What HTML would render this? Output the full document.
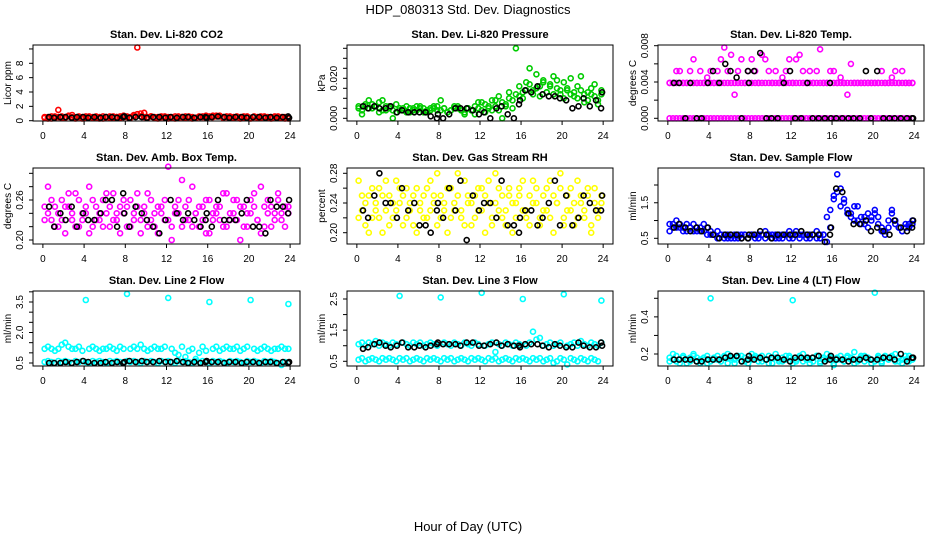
<!DOCTYPE html>
<html><head><meta charset="utf-8">
<style>
html,body{margin:0;padding:0;background:#fff;}
svg{display:block;font-family:"Liberation Sans",sans-serif;}
</style></head>
<body>
<svg id="chart" width="936" height="540" viewBox="0 0 936 540">
<rect x="0" y="0" width="936" height="540" fill="#fff"/>
<text x="468" y="14" font-size="13" text-anchor="middle">HDP_080313  Std. Dev. Diagnostics</text>
<text x="468" y="531" font-size="13" text-anchor="middle">Hour of Day (UTC)</text>
</svg>
<script>
// ---- data ----
const xTicks = [0,4,8,12,16,20,24];
const blackHours = [0.6,1.1,1.7,2.2,2.8,3.3,3.9,4.4,5.0,5.6,6.1,6.7,7.2,7.8,7.9,8.4,9.0,9.6,10.1,10.7,11.3,11.9,12.4,13.0,13.6,14.1,14.7,15.3,15.8,15.9,16.4,17.0,17.6,18.1,18.7,19.3,19.8,20.4,21.0,21.6,22.1,22.7,23.3,23.8,23.9];

const co2A = [0.4,0.5,0.3,0.6,1.5,0.4,0.5,0.6,0.8,0.4,0.5,0.3,0.6,0.5,0.4,0.6,0.5,0.3,0.5,0.6,0.4,0.5,0.6,0.7,0.5,0.4,0.6,10.2,1.0,1.1,0.5,0.6,0.4,0.5,0.6,0.4,0.3,0.5,0.6,0.4,0.5,0.6,0.5,0.3,0.4,0.6,0.5,0.4,0.5,0.7,0.6,0.7,0.5,0.6,0.4,0.5,0.6,0.5,0.4,0.6,0.3,0.5,0.4,0.6,0.5,0.4,0.5,0.6,0.4,0.5,0.3,0.4];
const co2B = [0.5,0.3,0.6,0.4,0.5,0.6,0.4,0.7,0.5,0.3,0.6,0.5,0.4,0.6,0.5,0.4,0.3,0.6,0.5,0.4,0.6,0.5,0.4,0.5,0.6,0.5,0.8,0.9,0.6,0.5,0.4,0.6,0.5,0.3,0.5,0.6,0.5,0.4,0.3,0.6,0.5,0.4,0.6,0.5,0.4,0.5,0.6,0.7,0.6,0.5,0.7,0.6,0.4,0.5,0.6,0.4,0.5,0.3,0.6,0.5,0.4,0.6,0.5,0.4,0.6,0.5,0.3,0.5,0.6,0.4,0.5,0.3];
const co2K = [0.5,0.4,0.5,0.5,0.4,0.5,0.5,0.4,0.5,0.4,0.5,0.5,0.4,0.5,0.6,0.4,0.5,0.5,0.4,0.5,0.5,0.4,0.5,0.4,0.5,0.5,0.4,0.5,0.5,0.4,0.5,0.6,0.5,0.4,0.5,0.5,0.4,0.5,0.5,0.4,0.5,0.4,0.5,0.6,0.4];

const presA = [0.005,0.002,0.006,0.005,0.007,0.006,0.008,0.009,0.004,0.006,0.0,0.007,0.004,0.005,0.003,0.005,0.004,0.006,0.005,0.003,0.004,0.005,0.006,0.004,0.009,0.005,0.003,0.004,0.005,0.006,0.004,0.003,0.005,0.004,0.002,0.005,0.008,0.003,0.005,0.009,0.006,0.004,0.0,0.007,0.010,0.005,0.035,0.011,0.013,0.018,0.025,0.014,0.022,0.016,0.019,0.013,0.017,0.021,0.015,0.012,0.018,0.014,0.020,0.011,0.016,0.021,0.008,0.013,0.012,0.017,0.009,0.014];
const presB = [0.006,0.004,0.007,0.009,0.005,0.006,0.003,0.004,0.006,0.005,0.004,0.003,0.005,0.004,0.006,0.003,0.005,0.004,0.006,0.005,0.003,0.004,0.005,0.006,0.004,0.005,0.003,0.004,0.006,0.005,0.004,0.002,0.005,0.004,0.006,0.008,0.004,0.007,0.006,0.004,0.009,0.011,0.008,0.006,0.013,0.009,0.012,0.016,0.010,0.014,0.017,0.012,0.015,0.011,0.018,0.013,0.016,0.012,0.019,0.014,0.010,0.015,0.012,0.013,0.010,0.014,0.012,0.009,0.015,0.011,0.007,0.012];
const presK = [0.006,0.005,0.006,0.005,0.005,0.006,0.003,0.004,0.003,0.003,0.003,0.003,0.001,0.0,0.002,0.0,0.002,0.005,0.005,0.005,0.004,0.002,0.003,0.0,0.005,0.006,0.002,0.0,0.007,0.009,0.014,0.013,0.016,0.012,0.011,0.011,0.010,0.009,0.005,0.006,0.010,0.006,0.009,0.005,0.013];

const tempA = [0.0039,0.0039,0.0052,0.0052,0.0039,0.0039,0.0052,0.0065,0.0039,0.0052,0.0039,0.0045,0.0052,0.0039,0.0052,0.0065,0.0078,0.0052,0.0070,0.0026,0.0052,0.0065,0.0039,0.0052,0.0065,0.0052,0.0039,0.0070,0.0065,0.0052,0.0039,0.0052,0.0039,0.0045,0.0052,0.0065,0.0039,0.0065,0.0070,0.0052,0.0039,0.0052,0.0039,0.0052,0.0076,0.0039,0.0039,0.0052,0.0052,0.0039,0.0045,0.0039,0.0026,0.0060,0.0039,0.0039,0.0039,0.0039,0.0039,0.0039,0.0039,0.0039,0.0052,0.0039,0.0039,0.0045,0.0052,0.0039,0.0052,0.0039,0.0039,0.0039];
const tempB = [0,0,0,0,0,0,0,0,0,0,0,0,0,0,0,0,0,0,0,0,0,0,0,0,0,0,0,0,0,0,0,0,0,0,0,0,0,0,0,0,0,0,0,0,0,0,0,0,0,0,0,0,0,0,0,0,0,0,0,0,0,0,0,0,0,0,0,0,0,0,0,0];
const tempC = [0.0039,0.0039,0.0039,0.0039,0.0039,0.0039,0.0039,0.0039,0.0039,0.0039,0.0039,0.0039,0.0039,0.0039,0.0039,0.0039,0.0039,0.0039,0.0039,0.0039,0.0039,0.0039,0.0039,0.0039,0.0039,0.0039,0.0039,0.0039,0.0039,0.0039,0.0039,0.0039,0.0039,0.0039,0.0039,0.0039,0.0039,0.0039,0.0039,0.0039,0.0039,0.0039,0.0039,0.0039,0.0039,0.0039,0.0039,0.0039,0.0039,0.0039,0.0039,0.0039,0.0039,0.0039,0.0039,0.0039,0.0039,0.0039,0.0039,0.0039,0.0039,0.0039,0.0039,0.0039,0.0039,0.0039,0.0039,0.0039,0.0039,0.0039,0.0039,0.0039];
const tempK = [0.0039,0.0039,0,0.0039,0,0,0.0039,0.0052,0.0039,0.006,0.0052,0.0045,0,0.0052,0.0039,0.0052,0.0072,0,0,0,0.0039,0.0052,0,0,0.0039,0,0,0,0.0039,0,0,0,0,0,0,0.0052,0,0.0052,0,0,0,0,0,0,0];

const boxA = [0.25,0.28,0.23,0.22,0.24,0.26,0.21,0.25,0.23,0.27,0.22,0.24,0.25,0.21,0.26,0.23,0.24,0.22,0.27,0.25,0.23,0.24,0.21,0.26,0.25,0.22,0.24,0.27,0.23,0.25,0.22,0.26,0.24,0.21,0.25,0.23,0.31,0.2,0.24,0.26,0.22,0.25,0.23,0.28,0.24,0.22,0.25,0.21,0.26,0.23,0.24,0.25,0.22,0.27,0.23,0.24,0.26,0.2,0.25,0.22,0.24,0.27,0.23,0.21,0.25,0.26,0.22,0.24,0.27,0.23,0.25,0.24];
const boxB = [0.23,0.24,0.26,0.25,0.22,0.23,0.25,0.27,0.24,0.22,0.26,0.23,0.24,0.28,0.22,0.25,0.23,0.26,0.24,0.22,0.27,0.23,0.25,0.24,0.22,0.26,0.23,0.25,0.21,0.24,0.27,0.23,0.22,0.25,0.24,0.26,0.23,0.22,0.25,0.24,0.29,0.23,0.26,0.22,0.24,0.25,0.23,0.26,0.21,0.24,0.25,0.23,0.27,0.22,0.24,0.26,0.23,0.25,0.22,0.24,0.26,0.25,0.23,0.28,0.22,0.24,0.25,0.23,0.26,0.24,0.22,0.25];
const boxK = [0.25,0.22,0.24,0.23,0.25,0.22,0.24,0.23,0.23,0.24,0.26,0.26,0.22,0.27,0.24,0.22,0.25,0.24,0.23,0.22,0.21,0.23,0.26,0.24,0.23,0.24,0.23,0.22,0.23,0.24,0.22,0.26,0.23,0.23,0.23,0.24,0.26,0.22,0.22,0.21,0.26,0.25,0.25,0.24,0.26];

const rhA = [0.27,0.23,0.21,0.25,0.22,0.24,0.26,0.2,0.23,0.25,0.22,0.27,0.24,0.21,0.26,0.23,0.25,0.2,0.24,0.22,0.26,0.23,0.25,0.28,0.22,0.24,0.2,0.26,0.23,0.25,0.22,0.27,0.24,0.21,0.25,0.23,0.26,0.2,0.24,0.22,0.28,0.23,0.25,0.21,0.26,0.24,0.22,0.25,0.27,0.23,0.21,0.24,0.26,0.22,0.25,0.23,0.27,0.2,0.24,0.26,0.22,0.25,0.23,0.21,0.27,0.24,0.22,0.25,0.2,0.26,0.23,0.24];
const rhB = [0.22,0.25,0.24,0.2,0.26,0.23,0.22,0.25,0.27,0.21,0.24,0.23,0.26,0.25,0.22,0.24,0.21,0.26,0.23,0.25,0.22,0.27,0.24,0.21,0.25,0.23,0.26,0.22,0.24,0.28,0.23,0.21,0.25,0.24,0.22,0.26,0.23,0.25,0.27,0.21,0.24,0.26,0.22,0.23,0.25,0.2,0.24,0.26,0.23,0.22,0.25,0.27,0.24,0.21,0.23,0.26,0.22,0.25,0.24,0.28,0.21,0.23,0.26,0.24,0.22,0.25,0.23,0.26,0.21,0.24,0.22,0.25];
const rhK = [0.23,0.22,0.25,0.28,0.24,0.24,0.22,0.26,0.23,0.24,0.21,0.21,0.2,0.23,0.24,0.22,0.26,0.23,0.27,0.19,0.25,0.23,0.24,0.24,0.22,0.27,0.21,0.21,0.2,0.22,0.23,0.23,0.21,0.22,0.24,0.27,0.21,0.25,0.21,0.22,0.25,0.24,0.23,0.23,0.25];

const sflA = [0.9,0.8,1.0,0.8,0.7,0.9,0.8,0.7,0.8,0.7,0.9,0.8,0.6,0.6,0.7,0.6,0.5,0.6,0.6,0.5,0.6,0.5,0.6,0.5,0.6,0.6,0.5,0.6,0.7,0.6,0.5,0.6,0.5,0.6,0.6,0.5,0.6,0.7,0.6,0.6,0.5,0.6,0.6,0.5,0.6,0.6,0.4,0.8,1.7,2.3,1.9,1.5,1.3,1.2,1.4,1.0,1.1,0.9,1.2,1.0,1.3,1.1,0.7,0.6,0.8,1.3,1.0,0.8,0.7,0.8,0.9,1.0];
const sflB = [0.7,0.9,0.8,0.9,0.8,0.7,0.8,0.9,0.7,0.8,0.7,0.6,0.7,0.6,0.5,0.6,0.6,0.5,0.5,0.6,0.5,0.6,0.6,0.5,0.6,0.5,0.6,0.6,0.5,0.6,0.6,0.5,0.6,0.5,0.6,0.7,0.5,0.6,0.5,0.6,0.6,0.5,0.6,0.7,0.5,0.6,1.1,1.3,1.6,1.8,1.4,1.6,1.2,1.1,1.0,1.4,0.9,1.1,0.8,1.1,1.2,0.9,0.8,0.7,1.0,1.2,0.9,0.8,0.7,0.9,0.8,0.9];
const sflK = [0.8,0.9,0.8,0.7,0.8,0.7,0.8,0.6,0.5,0.6,0.6,0.6,0.5,0.5,0.6,0.6,0.7,0.6,0.5,0.6,0.6,0.6,0.6,0.7,0.6,0.6,0.6,0.4,0.6,0.8,1.9,1.8,1.2,0.9,0.9,1.0,0.7,0.8,0.7,0.6,1.0,0.8,0.7,0.8,1.0];

const l2A = [1.2,1.3,1.2,1.1,1.2,1.4,1.5,1.3,1.2,1.2,1.3,1.1,3.6,1.2,1.3,1.2,1.1,1.2,1.2,1.3,1.2,1.1,1.3,1.2,3.9,1.2,1.3,1.2,1.4,1.2,1.1,1.2,1.3,1.2,1.2,1.3,3.7,1.2,1.0,0.9,1.3,0.8,1.1,1.2,0.7,1.0,1.3,1.1,3.5,1.2,1.3,1.1,1.2,1.3,1.2,1.2,1.3,1.1,1.2,1.3,3.6,1.2,1.1,1.2,1.3,1.2,1.1,1.2,1.2,1.3,1.2,1.2];
const l2B = [0.55,0.6,0.55,0.5,0.6,0.55,0.6,0.55,0.5,0.6,0.55,0.6,0.55,0.5,0.6,0.55,0.6,0.55,0.5,0.6,0.55,0.6,0.55,0.5,0.6,0.55,0.6,0.55,0.5,0.6,0.55,0.6,0.55,0.5,0.6,0.55,0.6,0.55,0.5,0.6,0.55,0.6,0.55,0.5,0.6,0.55,0.6,0.55,0.5,0.6,0.55,0.6,0.55,0.5,0.6,0.55,0.6,0.55,0.5,0.6,0.55,0.6,0.55,0.5,0.6,0.55,0.6,0.55,0.5,0.4,0.55,3.4];
const l2K = [0.5,0.5,0.5,0.55,0.5,0.55,0.6,0.55,0.5,0.5,0.55,0.5,0.55,0.5,0.55,0.6,0.55,0.6,0.55,0.55,0.6,0.55,0.55,0.6,0.55,0.5,0.55,0.5,0.55,0.6,0.55,0.55,0.5,0.55,0.55,0.5,0.55,0.55,0.5,0.55,0.55,0.5,0.55,0.5,0.55];

const l3A = [1.05,1.1,1.0,1.1,1.05,1.15,1.0,1.1,1.05,1.0,1.1,1.05,2.6,1.1,1.05,1.0,1.1,1.05,1.1,1.0,1.05,1.1,1.05,1.0,2.55,1.1,1.05,1.0,1.1,1.05,1.0,1.1,1.05,1.0,1.1,1.05,2.7,1.0,1.05,1.1,0.8,1.05,1.0,1.1,1.05,1.0,1.1,1.05,2.5,1.0,1.1,1.45,1.2,1.25,1.0,1.05,1.1,1.0,1.05,1.1,2.65,1.0,1.05,1.1,1.0,1.15,1.05,1.0,1.1,1.05,1.0,1.1];
const l3B = [0.55,0.6,0.5,0.55,0.6,0.55,0.5,0.6,0.55,0.6,0.55,0.5,0.6,0.55,0.6,0.5,0.55,0.6,0.55,0.5,0.6,0.55,0.6,0.55,0.5,0.6,0.55,0.6,0.5,0.55,0.6,0.55,0.5,0.6,0.55,0.6,0.55,0.5,0.6,0.55,0.6,0.5,0.55,0.6,0.55,0.5,0.6,0.55,0.6,0.55,0.5,0.6,0.55,0.6,0.5,0.55,0.6,0.45,0.5,0.6,0.55,0.4,0.6,0.55,0.5,0.6,0.55,0.5,0.6,0.55,0.5,2.45];
const l3K = [0.9,0.95,1.05,1.1,1.0,0.95,1.0,1.1,0.95,0.95,1.0,0.95,1.0,1.05,1.1,1.05,1.05,1.05,1.0,1.1,1.1,1.0,1.0,1.05,1.1,1.0,1.05,1.0,1.0,0.95,1.05,1.05,1.05,1.0,0.95,1.05,1.0,0.95,0.95,1.1,1.0,0.95,0.95,1.1,1.0];

const l4A = [0.18,0.2,0.16,0.17,0.19,0.15,0.18,0.2,0.16,0.17,0.18,0.15,0.5,0.17,0.19,0.16,0.18,0.2,0.17,0.15,0.18,0.19,0.16,0.17,0.2,0.18,0.16,0.19,0.17,0.15,0.18,0.2,0.16,0.18,0.17,0.19,0.49,0.16,0.18,0.2,0.17,0.15,0.18,0.19,0.16,0.17,0.2,0.18,0.15,0.17,0.19,0.16,0.18,0.17,0.21,0.16,0.18,0.19,0.17,0.15,0.53,0.18,0.16,0.19,0.17,0.18,0.2,0.16,0.17,0.19,0.16,0.18];
const l4B = [0.16,0.17,0.19,0.15,0.18,0.17,0.16,0.19,0.18,0.15,0.17,0.19,0.16,0.18,0.17,0.16,0.19,0.15,0.18,0.17,0.19,0.16,0.18,0.15,0.17,0.19,0.18,0.16,0.17,0.19,0.15,0.18,0.17,0.16,0.19,0.18,0.15,0.17,0.19,0.16,0.18,0.17,0.16,0.19,0.15,0.18,0.17,0.19,0.14,0.18,0.17,0.16,0.19,0.18,0.15,0.17,0.19,0.16,0.18,0.17,0.16,0.19,0.15,0.18,0.17,0.19,0.16,0.18,0.15,0.17,0.19,0.17];
const l4K = [0.17,0.17,0.17,0.17,0.16,0.16,0.17,0.17,0.17,0.18,0.19,0.19,0.16,0.17,0.19,0.17,0.18,0.17,0.18,0.18,0.17,0.16,0.18,0.18,0.18,0.18,0.19,0.16,0.17,0.19,0.17,0.17,0.16,0.17,0.17,0.18,0.17,0.17,0.18,0.18,0.17,0.2,0.16,0.18,0.18];

// ---- panel specs (layout, not data) ----
const panels = [
 {id:'co2',title:'Stan. Dev. Li-820 CO2',ylab:'Licor ppm',col:'#ff0000',S:[co2A,co2B],K:co2K,bx:[33,300],by:[45,121],ref:[0,120.7,8,63.3],ticks:[0,2,4,6,8,10],labels:['0','2','4','6','8'],lv:[0,2,4,6,8]},
 {id:'pressure',title:'Stan. Dev. Li-820 Pressure',ylab:'kPa',col:'#00cc00',S:[presA,presB],K:presK,bx:[347,613],by:[45,121],ref:[0,118.3,0.02,78.3],ticks:[0,0.005,0.01,0.015,0.02,0.025,0.03,0.035],labels:['0.000','0.020'],lv:[0,0.02]},
 {id:'temp',title:'Stan. Dev. Li-820 Temp.',ylab:'degrees C',col:'#ff00ff',S:[tempA,tempB,tempC],K:tempK,bx:[658,924],by:[45,121],ref:[0,118.3,0.008,45.7],ticks:[0,0.002,0.004,0.006,0.008],labels:['0.000','0.004','0.008'],lv:[0,0.004,0.008]},
 {id:'amb-box-temp',title:'Stan. Dev. Amb. Box Temp.',ylab:'degrees C',col:'#ff00ff',S:[boxA,boxB],K:boxK,bx:[33,300],by:[168,244],ref:[0.2,240,0.26,200],ticks:[0.2,0.22,0.24,0.26,0.28,0.3],labels:['0.20','0.26'],lv:[0.2,0.26]},
 {id:'gas-rh',title:'Stan. Dev. Gas Stream RH',ylab:'percent',col:'#ffff00',S:[rhA,rhB],K:rhK,bx:[347,613],by:[168,244],ref:[0.2,232.7,0.28,173.3],ticks:[0.2,0.22,0.24,0.26,0.28],labels:['0.20','0.24','0.28'],lv:[0.2,0.24,0.28]},
 {id:'sample-flow',title:'Stan. Dev. Sample Flow',ylab:'ml/min',col:'#0000ff',S:[sflA,sflB],K:sflK,bx:[658,924],by:[168,244],ref:[0.5,238.3,2.0,185],ticks:[0.5,1,1.5,2],labels:['0.5','1.5'],lv:[0.5,1.5]},
 {id:'line2-flow',title:'Stan. Dev. Line 2 Flow',ylab:'ml/min',col:'#00ffff',S:[l2A,l2B],K:l2K,bx:[33,300],by:[291,366],ref:[0.5,363,3.5,302],ticks:[0.5,1,1.5,2,2.5,3,3.5,4],labels:['0.5','2.0','3.5'],lv:[0.5,2,3.5]},
 {id:'line3-flow',title:'Stan. Dev. Line 3 Flow',ylab:'ml/min',col:'#00ffff',S:[l3A,l3B],K:l3K,bx:[347,613],by:[291,366],ref:[0.5,361.3,2.5,299],ticks:[0.5,1,1.5,2,2.5],labels:['0.5','1.5','2.5'],lv:[0.5,1.5,2.5]},
 {id:'line4-flow',title:'Stan. Dev. Line 4 (LT) Flow',ylab:'ml/min',col:'#00ffff',S:[l4A,l4B],K:l4K,bx:[658,924],by:[291,366],ref:[0.2,354,0.5,298.3],ticks:[0.2,0.3,0.4,0.5],labels:['0.2','0.4'],lv:[0.2,0.4]}
];

const NS='http://www.w3.org/2000/svg';
const svg=document.getElementById('chart');
function mk(tag,attrs,parent){const e=document.createElementNS(NS,tag);for(const k in attrs)e.setAttribute(k,attrs[k]);(parent||svg).appendChild(e);return e;}

panels.forEach(p=>{
  const g=mk('g',{});
  
  
  const [L,R]=p.bx,[T,B]=p.by;
  const xs=t=>L+(t+0.96)/25.92*(R-L);
  const [v0,y0,v1,y1]=p.ref;
  const ys=v=>y0+(v-v0)*(y1-y0)/(v1-v0);
  function series(arr,hours,color,name){
    const sg=mk('g',{},g);
    
    
    arr.forEach((v,i)=>{
      const t=hours?hours[i]:(i+0.5)*24/arr.length;
      const c=mk('circle',{cx:xs(t).toFixed(1),cy:ys(v).toFixed(1),r:2.5,fill:'none',stroke:color,'stroke-width':1.6},sg);
      
      
    });
  }
  p.S.forEach((arr,k)=>series(arr,null,p.col,p.id+'-series-'+k));
  series(p.K,blackHours,'#000',p.id+'-hourly-black');
  const bxr=mk('rect',{x:L,y:T,width:R-L,height:B-T,fill:'none',stroke:'#000','stroke-width':1},g);
  
  
  const tt=mk('text',{x:(L+R)/2,y:T-7,'font-size':11,'font-weight':'bold','text-anchor':'middle'},g);
  tt.textContent=p.title;
  
  
  mk('line',{x1:xs(0),x2:xs(24),y1:B,y2:B,stroke:'#000'},g);
  xTicks.forEach(t=>{
    mk('line',{x1:xs(t),x2:xs(t),y1:B,y2:B+4,stroke:'#000'},g);
    const tx=mk('text',{x:xs(t),y:B+18,'font-size':10,'text-anchor':'middle'},g);
    tx.textContent=t;
    
    
  });
  const yt0=ys(p.ticks[0]),yt1=ys(p.ticks[p.ticks.length-1]);
  mk('line',{x1:L,x2:L,y1:yt0,y2:yt1,stroke:'#000'},g);
  p.ticks.forEach(v=>mk('line',{x1:L-4,x2:L,y1:ys(v),y2:ys(v),stroke:'#000'},g));
  p.labels.forEach((lab,i)=>{
    const yy=ys(p.lv[i]),xx=L-10;
    const tx=mk('text',{x:xx,y:yy,'font-size':10,'text-anchor':'middle',transform:`rotate(-90 ${xx} ${yy})`},g);
    tx.textContent=lab;
    
    
  });
  const yl=(T+B)/2,xl=L-22;
  const yt=mk('text',{x:xl,y:yl,'font-size':10,'text-anchor':'middle',transform:`rotate(-90 ${xl} ${yl})`},g);
  yt.textContent=p.ylab;
  
  
});
</script>
</body></html>
